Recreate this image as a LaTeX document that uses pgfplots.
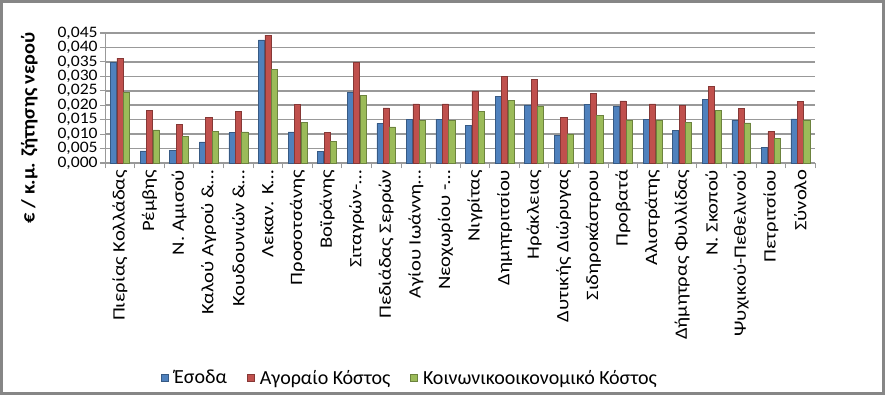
\documentclass[border=0pt]{standalone}
\usepackage{pgfplots}
\pgfplotsset{compat=1.18}
\usepackage{pgfplotstable}
\usepackage{fontspec}
\setmainfont{Carlito}
\newfontfamily\catfont[FakeStretch=1.19]{Carlito}
\newfontfamily\tickfont[FakeStretch=1.1]{Carlito}
\newfontfamily\titlefont[FakeStretch=1.07]{Carlito}
\definecolor{cBlue}{HTML}{4F81BD}
\definecolor{cRed}{HTML}{C0504D}
\definecolor{cGreen}{HTML}{9BBB59}
\definecolor{gridc}{HTML}{999999}
\definecolor{frame}{HTML}{868686}
\pgfplotstableread{
x E A K
0 0.0347 0.0363 0.0245
1 0.0042 0.0181 0.0115
2 0.0044 0.0133 0.0091
3 0.0073 0.0159 0.0109
4 0.0105 0.0179 0.0108
5 0.0426 0.0443 0.0323
6 0.0108 0.0204 0.0141
7 0.0040 0.0105 0.0076
8 0.0245 0.0347 0.0234
9 0.0137 0.0191 0.0125
10 0.0150 0.0205 0.0147
11 0.0150 0.0205 0.0147
12 0.0129 0.0248 0.0179
13 0.0230 0.0301 0.0218
14 0.0201 0.0290 0.0198
15 0.0096 0.0158 0.0101
16 0.0204 0.0241 0.0165
17 0.0196 0.0215 0.0149
18 0.0150 0.0205 0.0147
19 0.0114 0.0199 0.0141
20 0.0219 0.0266 0.0183
21 0.0149 0.0190 0.0139
22 0.0054 0.0109 0.0084
23 0.0153 0.0214 0.0149
}\data
\begin{document}
\begin{tikzpicture}[x=1pt,y=1pt]
\useasboundingbox (0,0) rectangle (663.75,296.25);
\draw[frame, line width=2pt] (1,1) rectangle (662.75,295.25);
\node[rotate=90, font=\titlefont\fontsize{14.3}{16}\selectfont\bfseries] at (22,200.5) {€ / κ.μ. ζήτησης νερού};
\begin{axis}[
  at={(90pt,174pt)}, anchor=origin,
  scale only axis,
  width=532.5pt, height=97.5pt,
  xmin=-0.5, xmax=23.5,
  ymin=0, ymax=0.045,
  ytick={0,0.005,...,0.046},
  scaled y ticks=false,
  xtick={0,...,23},
  minor xtick={-0.5,0.5,...,23.5},
  xticklabels={Πιερίας Κολλάδας, Ρέμβης, Ν. Αμισού, Καλού Αγρού \&…, Κουδουνιών \&…, Λεκαν. Κ…, Προσοτσάνης, Βοϊράνης, Σιταγρών-…, Πεδιάδας Σερρών, Αγίου Ιωάννη…, Νεοχωρίου -…, Νιγρίτας, Δημητριτσίου, Ηράκλειας, Δυτικής Διώρυγας, Σιδηροκάστρου, Προβατά, Αλιστράτης, Δήμητρας Φυλλίδας, Ν. Σκοπού, Ψυχικού-Πεθελινού, Πετριτσίου, Σύνολο},
  xticklabel style={rotate=90, anchor=east, font=\catfont\fontsize{13}{15}\selectfont, inner sep=1pt},
  major x tick style={draw=none},
  minor x tick style={draw=gridc, thick},
  minor tick length=4pt,
  yticklabel style={font=\tickfont\fontsize{12}{12}\selectfont, inner sep=0pt, xshift=-1.5pt},
  /pgf/number format/.cd, fixed, fixed zerofill, precision=3, use comma, 1000 sep={}, assume math mode=true,
  /pgfplots/.cd,
  ytick style={draw=gridc, thick},
  tick align=outside,
  major tick length=4pt,
  axis x line*=bottom, axis y line*=left,
  axis line style={gridc, thick, -},
  ymajorgrids, major grid style={gridc, line width=1.2pt},
  ybar, bar width=4.6pt,
  legend columns=3,
  legend style={at={(0.43,-1.655)}, anchor=center, draw=none, fill=none, font=\fontsize{15}{17}\selectfont,
    /tikz/every odd column/.append style={column sep=2pt},
    /tikz/every even column/.append style={column sep=13pt}},
  legend image code/.code={\fill[#1] (0pt,-2.6pt) rectangle (5.2pt,2.6pt);},
  clip=false,
]
\addplot[ybar, bar shift=-4.8pt, fill=cBlue, draw=cBlue!70!black] table[x=x,y=E]{\data};
\addplot[ybar, bar shift=0pt, fill=cRed, draw=cRed!70!black] table[x=x,y=A]{\data};
\addplot[ybar, bar shift=4.8pt, fill=cGreen, draw=cGreen!70!black] table[x=x,y=K]{\data};
\legend{Έσοδα, Αγοραίο Κόστος, Κοινωνικοοικονομικό Κόστος}
\end{axis}
\end{tikzpicture}
\end{document}
